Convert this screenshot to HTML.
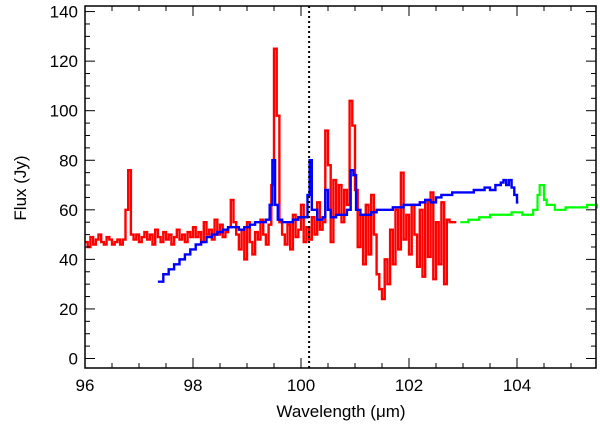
<!DOCTYPE html>
<html><head><meta charset="utf-8"><style>
html,body{margin:0;padding:0;background:#fff;}
svg text{font-family:"Liberation Sans",sans-serif;font-size:17px;fill:#000;}
</style></head><body>
<svg id="chart" width="600" height="431" viewBox="0 0 600 431" xmlns="http://www.w3.org/2000/svg"></svg>
<script>
const redStart = 96.0;
const redStep = 0.05;
const redFlux = [47,45,49,46,48,50,47,46,49,48,46,47,48,46,48,
60,76,50,
48,50,47,49,51,48,50,46,52,49,47,51,48,50,46,49,52,48,50,47,51,49,53,
49,51,47,55,50,52,48,56,50,54,49,51,53,
64,55,
50,44,52,40,55,47,42,51,48,56,50,46,54,
70,125,98,55,
50,46,54,44,58,49,52,62,47,53,
48,57,50,63,52,55,92,78,47,
72,58,70,55,68,62,
104,94,68,
45,58,38,62,42,66,
50,34,28,24,40,30,52,38,60,44,75,48,58,42,62,50,37,60,33,64,41,67,32,55,38,63,30,56,55,55,55];
const blueWave = [97.35,97.45,97.55,97.65,97.75,97.85,97.95,98.05,98.15,98.25,98.35,98.45,98.55,98.65,98.75,98.85,98.95,99.05,99.15,99.25,99.35,99.42,99.47,99.52,99.57,99.65,99.75,99.85,99.95,100.05,100.12,100.16,100.2,100.3,100.4,100.45,100.5,100.55,100.65,100.75,100.85,100.92,100.97,101.02,101.1,101.2,101.3,101.4,101.5,101.6,101.7,101.8,101.9,102.0,102.1,102.2,102.3,102.4,102.5,102.6,102.7,102.8,102.9,103.0,103.1,103.2,103.3,103.4,103.5,103.6,103.7,103.75,103.8,103.85,103.9,103.95,104.0];
const blueFlux = [31,34,36,38,40,42,44,46,47,49,50,51,52,53,53,52,53,54,55,55,56,62,80,62,56,55,55,56,57,57,66,80,60,56,57,68,60,57,58,58,60,76,74,60,58,58,59,60,60,60,61,61,62,62,62,63,64,63,65,66,66,67,67,67,67,68,68,69,68,70,71,72,70,72,69,66,63];
const greenWave = [102.95,103.1,103.3,103.5,103.7,103.9,104.1,104.3,104.38,104.42,104.5,104.55,104.7,104.9,105.1,105.3,105.48];
const greenFlux = [55,56,57,58,58,59,58,60,66,70,64,62,60,61,61,62,61];
const xTicks = [96,98,100,102,104];
const yTicks = [0,20,40,60,80,100,120,140];
const markerWave = 100.15;

const L=85,R=596,T=6,B=368;
const xs = w => L + (w-96)*54;
const ys = f => 358.5 - f*2.478;
const NS="http://www.w3.org/2000/svg";
const svg=document.getElementById('chart');
function mk(tag,attrs){const e=document.createElementNS(NS,tag);for(const k in attrs)e.setAttribute(k,attrs[k]);svg.appendChild(e);return e;}

function stepPath(xsArr,ysArr){
  let d='';
  for(let i=0;i<xsArr.length;i++){
    const x=xs(xsArr[i]),y=ys(ysArr[i]);
    if(i===0)d+='M'+x+','+y;else d+=' H'+x+' V'+y;
  }
  const last=xsArr.length>1?xsArr[xsArr.length-1]+(xsArr[xsArr.length-1]-xsArr[xsArr.length-2])*0.5:xsArr[0];
  d+=' H'+Math.min(xs(last),R);
  return d;
}
const redWave = redFlux.map((v,i)=>redStart+i*redStep);

let p;
p=mk('path',{d:stepPath(redWave,redFlux),fill:'none',stroke:'#ff0000','stroke-width':2.4});


p=mk('path',{d:stepPath(greenWave,greenFlux),fill:'none',stroke:'#00ff00','stroke-width':2.2});


p=mk('path',{d:stepPath(blueWave,blueFlux),fill:'none',stroke:'#0000ff','stroke-width':2.4});


p=mk('line',{x1:xs(markerWave),x2:xs(markerWave),y1:T,y2:B,stroke:'#000','stroke-width':2,'stroke-dasharray':'2,3'});



p=mk('rect',{x:L,y:T,width:R-L,height:B-T,fill:'none',stroke:'#000','stroke-width':1.5});



for(let w=96;w<=105.5;w+=0.5){
  const x=xs(w);if(x>R)break;
  const major=Math.abs(w-Math.round(w/2)*2)<1e-6;
  const len=major?10:5;
  mk('line',{x1:x,x2:x,y1:B,y2:B-len,stroke:'#000','stroke-width':1});
  mk('line',{x1:x,x2:x,y1:T,y2:T+len,stroke:'#000','stroke-width':1});
}
xTicks.forEach(w=>{
  const t=mk('text',{x:xs(w),y:391,'text-anchor':'middle'});t.textContent=w;
  
  
});
for(let f=0;f<=142;f+=5){
  const y=ys(f);if(y<T)break;
  const major=f%20===0;const len=major?10:5;
  mk('line',{x1:L,x2:L+len,y1:y,y2:y,stroke:'#000','stroke-width':1});
  mk('line',{x1:R,x2:R-len,y1:y,y2:y,stroke:'#000','stroke-width':1});
}
yTicks.forEach(f=>{
  const t=mk('text',{x:78,y:ys(f)+6,'text-anchor':'end'});t.textContent=f;
  
  
});
let t=mk('text',{x:341,y:417,'text-anchor':'middle'});t.textContent='Wavelength (μm)';


t=mk('text',{x:0,y:0,'text-anchor':'middle',transform:'translate(26,188) rotate(-90)'});t.textContent='Flux (Jy)';


</script>
</body></html>
